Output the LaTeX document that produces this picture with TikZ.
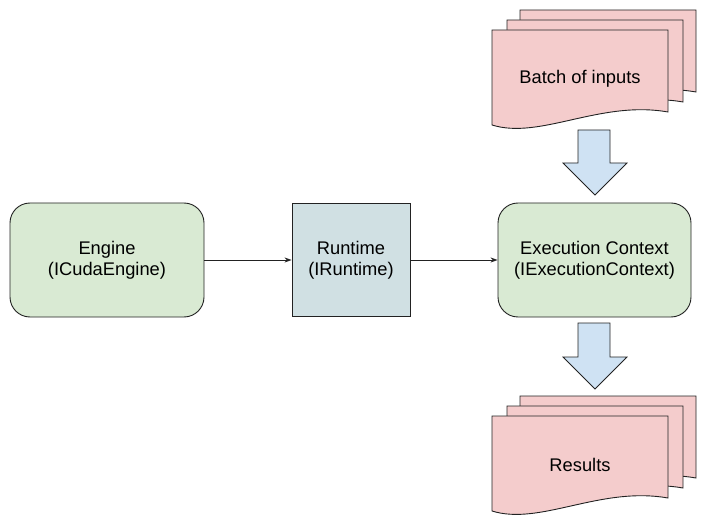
\documentclass[tikz,border=0pt]{standalone}
\usepackage{fontspec}
\setmainfont{Liberation Sans}
\usetikzlibrary{arrows.meta}
\definecolor{boxgreen}{HTML}{D9EAD3}
\definecolor{boxblue}{HTML}{D0E0E3}
\definecolor{docpink}{HTML}{F4CCCC}
\definecolor{arrowblue}{HTML}{CFE2F3}
\definecolor{strokec}{HTML}{222222}
\tikzset{
  boxbase/.style={draw=strokec, line width=0.9pt, align=center, font=\fontsize{18.3}{21}\selectfont, inner sep=0pt},
  roundbox/.style={boxbase, fill=boxgreen, rounded corners=20pt},
  squarebox/.style={boxbase, fill=boxblue},
  link/.style={draw=strokec, line width=0.8pt, -{Stealth[length=7pt,width=5pt]}},
  docpage/.pic={
    \path[draw=strokec, line width=0.9pt, fill=docpink]
      (0,0) -- (176,0) -- (176,82)
      .. controls (108,70) and (48,110) .. (0,95) -- cycle;
  },
  blockarrow/.style={draw=strokec, line width=0.8pt, fill=arrowblue},
  doclabel/.style={font=\fontsize{18.3}{21}\selectfont, inner sep=0pt},
}
\begin{document}
\begin{tikzpicture}[x=1pt,y=-1pt]
\useasboundingbox (0,0) rectangle (706,526);
% top stack
\pic at (520,10) {docpage};
\pic at (507,20) {docpage};
\pic at (492,30) {docpage};
\node[doclabel] (batch) at (580,79) {Batch of inputs};
% bottom stack
\pic at (520,396) {docpage};
\pic at (507,406) {docpage};
\pic at (492,416) {docpage};
\node[doclabel] (results) at (580,465) {Results};
% block arrows
\path[blockarrow] (578,130) -- (610,130) -- (610,163) -- (627,163) -- (595,195) -- (563,163) -- (578,163) -- cycle;
\path[blockarrow] (578,323) -- (610,323) -- (610,357) -- (627,357) -- (595,389) -- (563,357) -- (578,357) -- cycle;
% main boxes
\node[roundbox, minimum width=194pt, minimum height=114pt] (engine) at (107,260) {Engine\\(ICudaEngine)};
\node[squarebox, minimum width=118pt, minimum height=113pt] (runtime) at (351,260) {Runtime\\(IRuntime)};
\node[roundbox, minimum width=193pt, minimum height=114pt] (exec) at (594.5,260) {Execution Context\\(IExecutionContext)};
\draw[link] (engine) -- (runtime);
\draw[link] (runtime) -- (exec);
\end{tikzpicture}
\end{document}
